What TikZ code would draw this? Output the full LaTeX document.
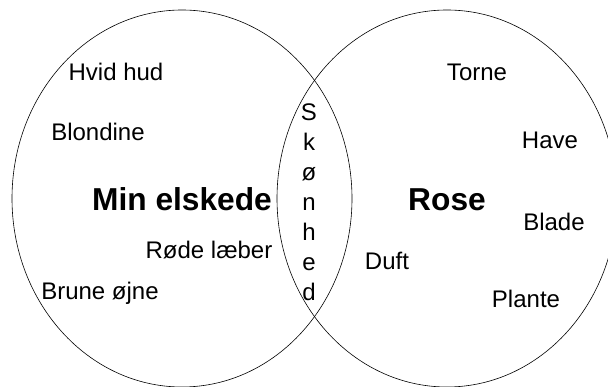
\documentclass[tikz,border=0pt]{standalone}
\usepackage{fontspec}
\setmainfont{Liberation Sans}
\begin{document}
\begin{tikzpicture}[x=1pt,y=1pt,
  set/.style={draw=black,line width=0.6pt},
  lbl/.style={inner sep=0pt,anchor=base,font=\fontsize{24}{28}\selectfont},
  big/.style={inner sep=0pt,anchor=base,font=\fontsize{31.7}{36}\selectfont\bfseries}]
\useasboundingbox (0,0) rectangle (608,-387);
\clip (0,0) rectangle (608,-387);
\fill[white] (0,0) rectangle (608,-387);
\draw[set] (182,-198.5) ellipse [x radius=170, y radius=188.5];
\draw[set] (447,-198.5) ellipse [x radius=170, y radius=188.5];
% left set
\node[lbl] (hvid) at (116,-81) {Hvid hud};
\node[lbl] (blond) at (98,-141) {Blondine};
\node[big] (min) at (182,-211) {Min elskede};
\node[lbl] (rode) at (209,-259) {Røde læber};
\node[lbl] (brune) at (100,-300) {Brune øjne};
% right set
\node[lbl] (torne) at (477,-81) {Torne};
\node[lbl] (have) at (550,-149) {Have};
\node[big] (rose) at (447,-211) {Rose};
\node[lbl] (blade) at (554,-231) {Blade};
\node[lbl] (duft) at (387,-270) {Duft};
\node[lbl] (plante) at (526,-308) {Plante};
% intersection
\node[inner sep=0pt,align=center,font=\fontsize{24}{30}\selectfont] (skon) at (309,-202) {S\\k\\ø\\n\\h\\e\\d};
\end{tikzpicture}
\end{document}
